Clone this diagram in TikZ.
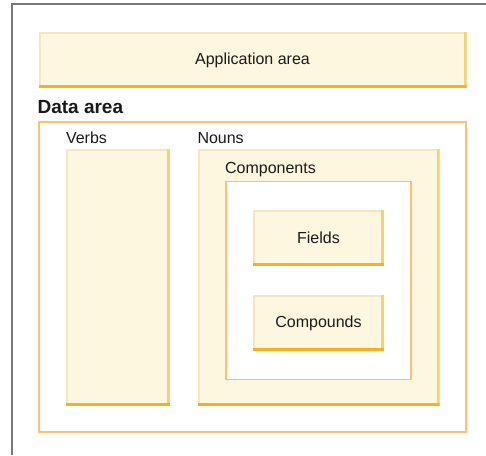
\documentclass[tikz,border=0pt]{standalone}
\usepackage{fontspec}
\setmainfont{Liberation Sans}
\usetikzlibrary{positioning}

\definecolor{boxFill}{HTML}{FEF7DF}
\definecolor{boxLight}{HTML}{F6E6BC}
\definecolor{boxRight}{HTML}{F9CF70}
\definecolor{boxBottom}{HTML}{F5B121}
\definecolor{areaLine}{HTML}{FAC271}
\definecolor{frameColor}{HTML}{7A7A7A}
\definecolor{txtColor}{HTML}{1A1A1A}

\tikzset{
  % raised yellow box: pale top/left, darker right, heavy bottom edge
  panel/.style={rectangle, inner sep=0pt, fill=boxFill, text=txtColor,
    font=\fontsize{16}{19}\selectfont,
    path picture={
      \fill[boxLight] (path picture bounding box.south west) rectangle
        ([xshift=2pt]path picture bounding box.north west);
      \fill[boxLight] ([yshift=-2pt]path picture bounding box.north west) rectangle
        (path picture bounding box.north east);
      \fill[boxRight] ([xshift=-3pt]path picture bounding box.north east) rectangle
        (path picture bounding box.south east);
      \fill[boxBottom] (path picture bounding box.south west) rectangle
        ([yshift=3pt]path picture bounding box.south east);
    }},
  area/.style={rectangle, inner sep=0pt, draw=areaLine, line width=1.2pt},
  lbl/.style={anchor=base west, inner sep=0pt, text=txtColor,
    font=\fontsize{16}{19}\selectfont}
}

\begin{document}
\begin{tikzpicture}[x=1pt,y=1pt]
\path[use as bounding box,fill=white] (0,0) rectangle (486,455);

% outer frame, open on the right and bottom
\coordinate (frameBL) at (12,0);
\coordinate (frameTL) at (12,451);
\coordinate (frameTR) at (486,451);
\draw[frameColor,line width=1.6pt] (frameBL) -- (frameTL) -- (frameTR);

% application area
\node[panel,minimum width=428,minimum height=56] (app) at (252.5,395) {Application area};

% data area
\node[area,minimum width=427,minimum height=310] (data) at (252.5,178) {};
\node[lbl,font=\fontsize{19}{22}\selectfont\bfseries] (dataLbl)
  at ([xshift=-1pt,yshift=7.7pt]data.north west) {Data area};

% verbs
\node[panel,minimum width=104,minimum height=257] (verbs) at (118,177.5) {};
\node[lbl] (verbsLbl) at ([yshift=5pt]verbs.north west) {Verbs};

% nouns
\node[panel,minimum width=242,minimum height=257] (nouns) at (318.5,177.5) {};
\node[lbl] (nounsLbl) at ([yshift=5pt]nouns.north west) {Nouns};

% components
\node[area,fill=white,minimum width=185,minimum height=197.5] (comps) at (318.5,174.5) {};
\node[lbl] (compsLbl) at ([xshift=-0.5pt,yshift=8pt]comps.north west) {Components};

\node[panel,minimum width=131,minimum height=56] (fields) at (318.5,217) {Fields};
\node[panel,minimum width=131,minimum height=56] (compounds) at (318.5,132) {Compounds};
\end{tikzpicture}
\end{document}
